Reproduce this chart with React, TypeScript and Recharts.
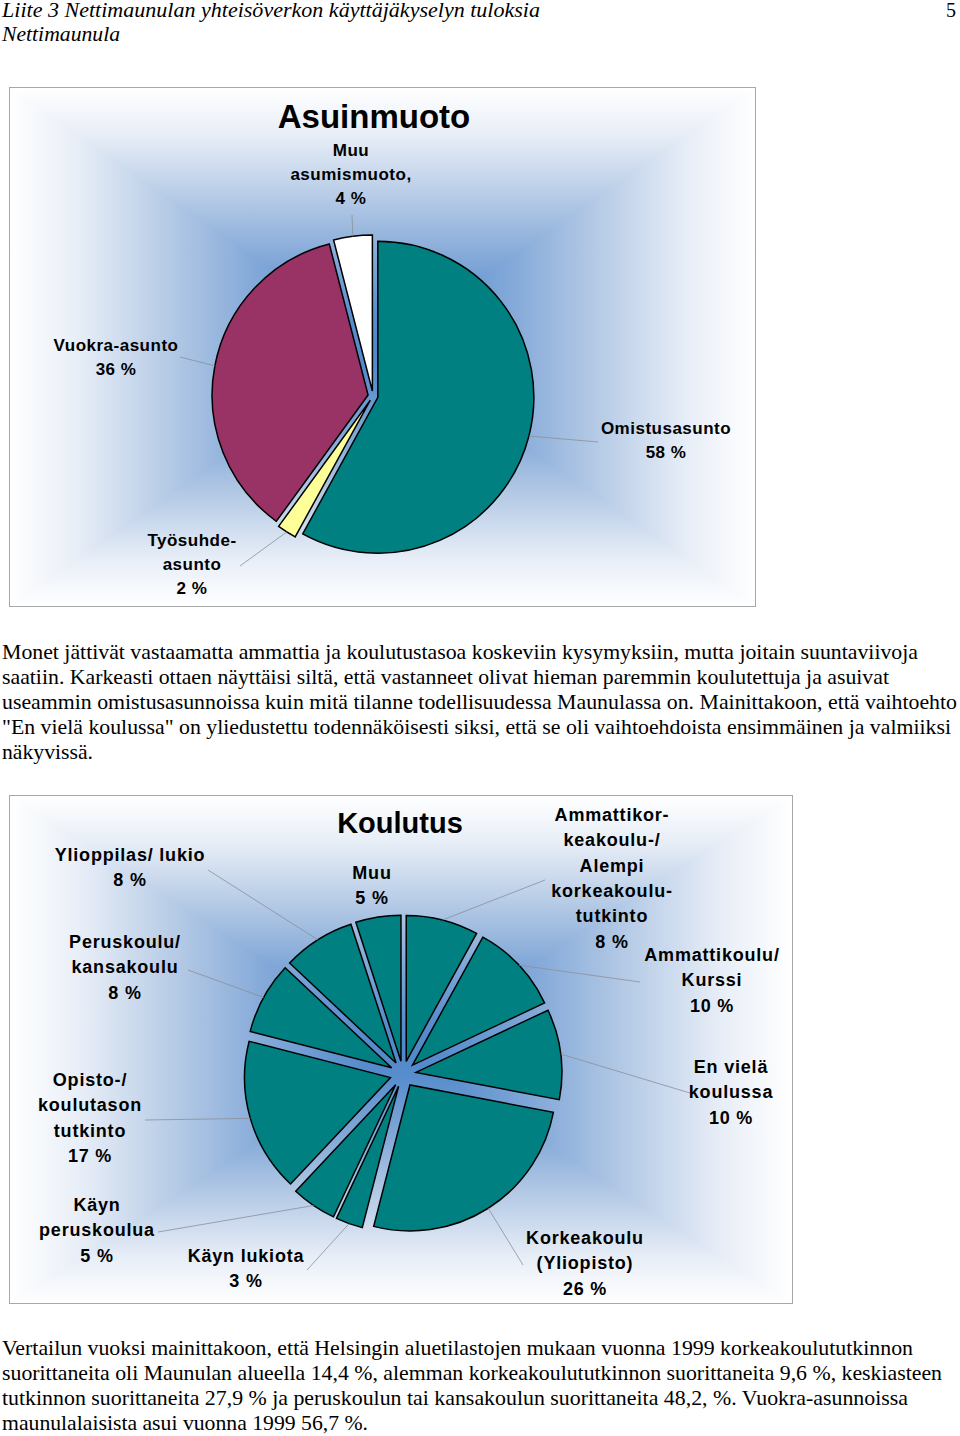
import { PieChart, Pie, Cell, Sector } from "recharts";

// Asuinmuoto (housing)
const housingNames = ["Omistusasunto", "Työsuhde-asunto", "Vuokra-asunto", "Muu asumismuoto"];
const housingValues = [58, 2, 36, 4];
const housingLabelLines = [
  ["Omistusasunto"],
  ["Työsuhde-", "asunto"],
  ["Vuokra-asunto"],
  ["Muu", "asumismuoto,"],
];

// Koulutus (education)
const eduNames = [
  "Ammattikorkeakoulu-/Alempi korkeakoulututkinto",
  "Ammattikoulu/Kurssi",
  "En vielä koulussa",
  "Korkeakoulu (Yliopisto)",
  "Käyn lukiota",
  "Käyn peruskoulua",
  "Opisto-/koulutason tutkinto",
  "Peruskoulu/kansakoulu",
  "Ylioppilas/lukio",
  "Muu",
];
const eduValues = [8, 10, 10, 26, 3, 5, 17, 8, 8, 5];
const eduLabelLines = [
  ["Ammattikor-", "keakoulu-/", "Alempi", "korkeakoulu-", "tutkinto"],
  ["Ammattikoulu/", "Kurssi"],
  ["En vielä", "koulussa"],
  ["Korkeakoulu", "(Yliopisto)"],
  ["Käyn lukiota"],
  ["Käyn", "peruskoulua"],
  ["Opisto-/", "koulutason", "tutkinto"],
  ["Peruskoulu/", "kansakoulu"],
  ["Ylioppilas/ lukio"],
  ["Muu"],
];

const housingData = housingNames.map((name, i) => ({ name, value: housingValues[i] }));
const eduData = eduNames.map((name, i) => ({ name, value: eduValues[i] }));

const housingColors = ["#008080", "#FFFF99", "#993366", "#FFFFFF"];
const eduColors = eduNames.map(() => "#008080");

// label placement inside each chart box: text centre x, first line y, leader end
const housingLabelPos = [
  { x: 656, y: 340, lx: 588, ly: 354 },
  { x: 182, y: 452, lx: 230, ly: 478 },
  { x: 106, y: 257, lx: 170, ly: 269 },
  { x: 341, y: 62, lx: 342, ly: 127 },
];
const eduLabelPos = [
  { x: 602, y: 19, lx: 535, ly: 84 },
  { x: 702, y: 159, lx: 630, ly: 186 },
  { x: 721, y: 271, lx: 680, ly: 297 },
  { x: 575, y: 442, lx: 513, ly: 469 },
  { x: 236, y: 460, lx: 297, ly: 474 },
  { x: 87, y: 409, lx: 148, ly: 436 },
  { x: 80, y: 284, lx: 135, ly: 324 },
  { x: 115, y: 146, lx: 178, ly: 174 },
  { x: 120, y: 59, lx: 198, ly: 74 },
  { x: 362, y: 77, lx: null, ly: null },
];

const RAD = Math.PI / 180;

function makeLabel(opts: {
  explode: number;
  colors: string[];
  lines: string[][];
  pos: { x: number; y: number; lx: number | null; ly: number | null }[];
  fontSize: number;
  lineH: number;
  spacing: number;
}) {
  return (p: any) => {
    const { cx, cy, midAngle, outerRadius, startAngle, endAngle, index, value } = p;
    const a = -midAngle * RAD;
    const ox = cx + opts.explode * Math.cos(a);
    const oy = cy + opts.explode * Math.sin(a);
    const ax = ox + outerRadius * Math.cos(a);
    const ay = oy + outerRadius * Math.sin(a);
    const pos = opts.pos[index];
    const lines = [...opts.lines[index], `${value} %`];
    return (
      <g>
        <Sector
          cx={ox}
          cy={oy}
          innerRadius={0}
          outerRadius={outerRadius}
          startAngle={startAngle}
          endAngle={endAngle}
          fill={opts.colors[index]}
          stroke="#000"
          strokeWidth={1.5}
        />
        {pos.lx != null && (
          <line x1={ax} y1={ay} x2={pos.lx} y2={pos.ly!} stroke="#8a8f99" strokeWidth={0.8} />
        )}
        <text
          x={pos.x}
          y={pos.y}
          textAnchor="middle"
          dominantBaseline="central"
          fontFamily="Liberation Sans, Arial, sans-serif"
          fontWeight="bold"
          fontSize={opts.fontSize}
          letterSpacing={opts.spacing}
          fill="#000"
        >
          {lines.map((t, i) => (
            <tspan key={i} x={pos.x} dy={i === 0 ? 0 : opts.lineH}>
              {t}
            </tspan>
          ))}
        </text>
      </g>
    );
  };
}

// Excel style "from centre" rectangular gradient: two linear ramps, lighter one wins
const ramp =
  "#ffffff 0%, #e8eef7 9%, #b6cbe6 21%, #82a8d8 33%, #5a8ecd 44%, #4f88cb 50%, #5a8ecd 56%, #82a8d8 67%, #b6cbe6 79%, #e8eef7 91%, #ffffff 100%";
const bgStyle = {
  backgroundImage: `linear-gradient(to right, ${ramp}), linear-gradient(to bottom, ${ramp})`,
  backgroundBlendMode: "lighten" as const,
};

const para1 = [
  "Monet jättivät vastaamatta ammattia ja koulutustasoa koskeviin kysymyksiin, mutta joitain suuntaviivoja",
  "saatiin. Karkeasti ottaen näyttäisi siltä, että vastanneet olivat hieman paremmin koulutettuja ja asuivat",
  "useammin omistusasunnoissa kuin mitä tilanne todellisuudessa Maunulassa on. Mainittakoon, että vaihtoehto",
  "\"En vielä koulussa\" on yliedustettu todennäköisesti siksi, että se oli vaihtoehdoista ensimmäinen ja valmiiksi",
  "näkyvissä.",
];
const para1Ends = [918, 889, 957, 951, 93];
const para2 = [
  "Vertailun vuoksi mainittakoon, että Helsingin aluetilastojen mukaan vuonna 1999 korkeakoulututkinnon",
  "suorittaneita oli Maunulan alueella 14,4 %, alemman korkeakoulututkinnon suorittaneita 9,6 %, keskiasteen",
  "tutkinnon suorittaneita 27,9 % ja peruskoulun tai kansakoulun suorittaneita 48,2, %. Vuokra-asunnoissa",
  "maunulalaisista asui vuonna 1999 56,7 %.",
];
const para2Ends = [913, 942, 908, 368];

function PageText() {
  const serif = "Liberation Serif, Times New Roman, serif";
  return (
    <svg width={960} height={1436} style={{ position: "absolute", left: 0, top: 0 }}>
      <text x={2} y={17} fontFamily={serif} fontStyle="italic" fontSize={20} textLength={538} lengthAdjust="spacingAndGlyphs">
        Liite 3  Nettimaunulan yhteisöverkon käyttäjäkyselyn tuloksia
      </text>
      <text x={2} y={41} fontFamily={serif} fontStyle="italic" fontSize={20} textLength={118} lengthAdjust="spacingAndGlyphs">
        Nettimaunula
      </text>
      <text x={956} y={17} fontFamily={serif} fontSize={20} textAnchor="end">
        5
      </text>
      {para1.map((t, i) => (
        <text key={i} x={2} y={659 + i * 25} fontFamily={serif} fontSize={21} textLength={para1Ends[i] - 2} lengthAdjust="spacingAndGlyphs">
          {t}
        </text>
      ))}
      {para2.map((t, i) => (
        <text key={i} x={2} y={1355 + i * 25} fontFamily={serif} fontSize={21} textLength={para2Ends[i] - 2} lengthAdjust="spacingAndGlyphs">
          {t}
        </text>
      ))}
    </svg>
  );
}

const titleStyle = {
  position: "absolute" as const,
  fontFamily: "Liberation Sans, Arial, sans-serif",
  fontWeight: "bold" as const,
  transform: "translate(-50%, -50%)",
  whiteSpace: "nowrap" as const,
  lineHeight: 1,
};

export default function App() {
  return (
    <div style={{ position: "relative", width: 960, height: 1436, background: "#fff" }}>
      <style>{"body{margin:0}"}</style>
      <PageText />

      <div style={{ position: "absolute", left: 10, top: 88, width: 745, height: 518, ...bgStyle, outline: "1.5px solid #a8a8a8" }}>
        <PieChart width={745} height={518} margin={{ top: 0, right: 0, bottom: 0, left: 0 }}>
          <Pie
            data={housingData}
            dataKey="value"
            nameKey="name"
            cx={363}
            cy={308}
            outerRadius={156}
            startAngle={90}
            endAngle={-270}
            isAnimationActive={false}
            labelLine={false}
            label={makeLabel({
              explode: 5,
              colors: housingColors,
              lines: housingLabelLines,
              pos: housingLabelPos,
              fontSize: 17,
              lineH: 24,
              spacing: 0.5,
            })}
          >
            {housingData.map((d) => (
              <Cell key={d.name} fill="transparent" stroke="none" />
            ))}
          </Pie>
        </PieChart>
        <div style={{ ...titleStyle, left: 364, top: 28, fontSize: 33 }}>Asuinmuoto</div>
      </div>

      <div style={{ position: "absolute", left: 10, top: 796, width: 782, height: 507, ...bgStyle, outline: "1.5px solid #a8a8a8" }}>
        <PieChart width={782} height={507} margin={{ top: 0, right: 0, bottom: 0, left: 0 }}>
          <Pie
            data={eduData}
            dataKey="value"
            nameKey="name"
            cx={393}
            cy={278}
            outerRadius={146}
            startAngle={90}
            endAngle={-270}
            isAnimationActive={false}
            labelLine={false}
            label={makeLabel({
              explode: 13,
              colors: eduColors,
              lines: eduLabelLines,
              pos: eduLabelPos,
              fontSize: 18,
              lineH: 25.3,
              spacing: 0.8,
            })}
          >
            {eduData.map((d) => (
              <Cell key={d.name} fill="transparent" stroke="none" />
            ))}
          </Pie>
        </PieChart>
        <div style={{ ...titleStyle, left: 390, top: 27, fontSize: 29 }}>Koulutus</div>
      </div>
    </div>
  );
}
